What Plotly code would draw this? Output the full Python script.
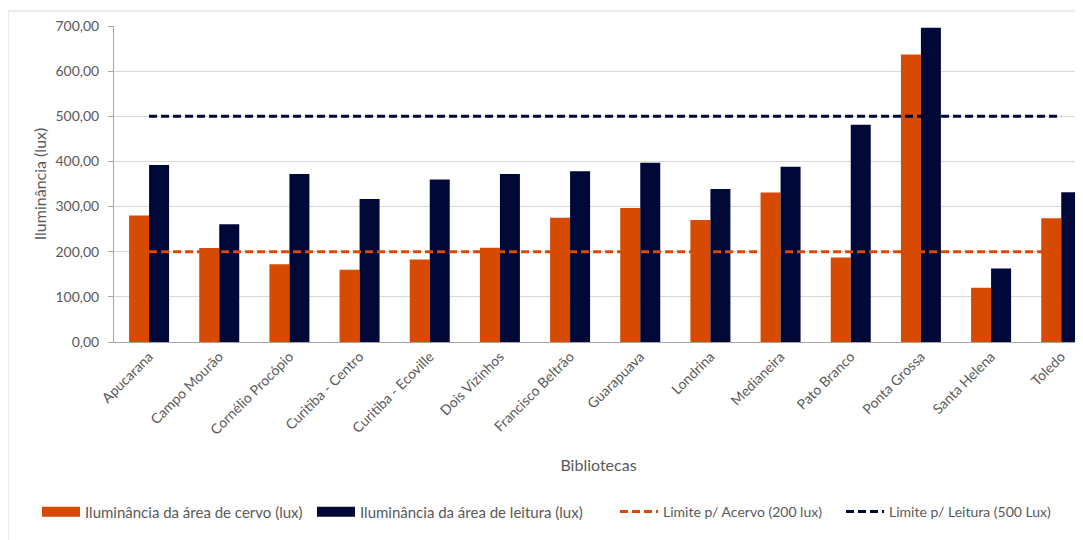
import plotly.graph_objects as go

bibliotecas = ["Apucarana", "Campo Mourão", "Cornélio Procópio", "Curitiba - Centro",
               "Curitiba - Ecoville", "Dois Vizinhos", "Francisco Beltrão", "Guarapuava",
               "Londrina", "Medianeira", "Pato Branco", "Ponta Grossa", "Santa Helena", "Toledo"]
acervo = [280, 208, 172, 160, 183, 209, 275, 297, 270, 331, 187, 637, 120, 274]
leitura = [392, 261, 372, 317, 360, 372, 378, 397, 339, 388, 481, 696, 163, 332]
limite_acervo = [200] * len(bibliotecas)
limite_leitura = [500] * len(bibliotecas)
y_ticks = [0, 100, 200, 300, 400, 500, 600, 700]

ORANGE = "#D64A02"
NAVY = "#000838"
TXT = "#595959"
FONT = "Lato"

names = ["Iluminância da área de cervo (lux)", "Iluminância da área de leitura (lux)",
         "Limite p/ Acervo (200 lux)", "Limite p/ Leitura (500 Lux)"]

# page body has an 8px default margin, so the figure is sized/offset to compensate
W, H = 1075, 532
L, T, B = 106, 18, 198
PW, PH = W - L, H - T - B

fig = go.Figure()
fig.add_trace(go.Bar(x=bibliotecas, y=acervo, marker=dict(color=ORANGE, line=dict(width=0)),
                     name=names[0], showlegend=False))
fig.add_trace(go.Bar(x=bibliotecas, y=leitura, marker=dict(color=NAVY, line=dict(width=0)),
                     name=names[1], showlegend=False))
# legend proxies with wide swatches
fig.add_trace(go.Scatter(x=[None], y=[None], mode="lines", line=dict(color=ORANGE, width=10),
                         name=names[0], legend="legend"))
fig.add_trace(go.Scatter(x=[None], y=[None], mode="lines", line=dict(color=NAVY, width=10),
                         name=names[1], legend="legend2"))
fig.add_trace(go.Scatter(x=bibliotecas, y=limite_acervo, mode="lines",
                         line=dict(color=ORANGE, width=3, dash="8px,4px"), name=names[2],
                         legend="legend3"))
fig.add_trace(go.Scatter(x=bibliotecas, y=limite_leitura, mode="lines",
                         line=dict(color=NAVY, width=3, dash="8px,4px"), name=names[3],
                         legend="legend4"))


def leg(px, size=15):
    return dict(orientation="h", x=(px - L) / PW, xanchor="left", y=(T + PH - 504) / PH,
                yanchor="middle", font=dict(size=size, color=TXT), bgcolor="rgba(0,0,0,0)",
                itemwidth=38)


fig.update_layout(
    width=W, height=H,
    margin=dict(l=L, r=0, t=T, b=B, autoexpand=False),
    plot_bgcolor="white", paper_bgcolor="white",
    separators=",.",
    barmode="group", bargap=0.43, bargroupgap=0,
    font=dict(family=FONT, size=14, color=TXT),
    legend=leg(29), legend2=leg(304), legend3=leg(607, 14), legend4=leg(833, 14),
    xaxis=dict(range=[-0.5, 13.31], tickangle=-45, showgrid=False, showline=True,
               linecolor="#A6A6A6", linewidth=1, ticks="", automargin=False,
               tickfont=dict(size=14, color=TXT),
               title=dict(text="Bibliotecas", font=dict(size=16, color=TXT), standoff=22)),
    yaxis=dict(range=[0, 700], tickvals=y_ticks, tickformat=".2f", showgrid=True,
               gridcolor="#D9D9D9", gridwidth=1, showline=True, linecolor="#A6A6A6",
               ticks="outside", ticklen=5, tickcolor="#A6A6A6", zeroline=False,
               ticklabelstandoff=6,
               automargin=False, tickfont=dict(size=14, color=TXT),
               title=dict(text="Iluminância (lux)", font=dict(size=16, color=TXT), standoff=4)),
    shapes=[dict(type="rect", xref="paper", yref="paper",
                 x0=(0 - L) / PW, x1=1.05, y0=-(B + 20) / PH, y1=(PH + T - 3) / PH,
                 line=dict(color="#D9D9D9", width=1), fillcolor="rgba(0,0,0,0)", layer="below")],
)

fig.write_html("out.html")
